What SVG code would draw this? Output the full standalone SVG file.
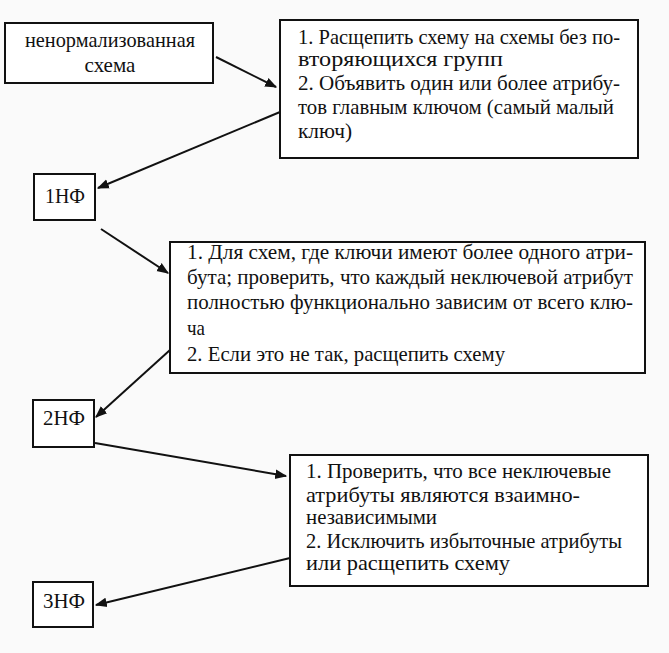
<svg xmlns="http://www.w3.org/2000/svg" width="669" height="653" viewBox="0 0 669 653">
<defs>
<style>
.box{fill:#fff;stroke:#111;stroke-width:2}
text{font-family:'Liberation Serif','Times New Roman',serif;font-size:21px;fill:#111}
.c{stroke:#111;stroke-width:2;fill:none;marker-end:url(#ah)}
</style>
<marker id="ah" viewBox="0 0 10 10" refX="9" refY="5" markerWidth="6" markerHeight="6" orient="auto" markerUnits="strokeWidth">
<path d="M0,1 L10,5 L0,9 z" fill="#111"/>
</marker>
</defs>
<rect width="669" height="653" fill="#fafafa"/>
<g id="connectors">
<line class="c" x1="216" y1="57" x2="276" y2="87"/>
<line class="c" x1="280" y1="112" x2="98" y2="188"/>
<line class="c" x1="101" y1="229" x2="168" y2="273"/>
<line class="c" x1="170" y1="350" x2="96" y2="417"/>
<line class="c" x1="95" y1="443" x2="286" y2="476"/>
<line class="c" x1="290" y1="558" x2="96" y2="605"/>
</g>
<g font-family="Liberation Serif, Times New Roman, serif" font-size="21">
<g id="n0">
<rect class="box" x="5" y="23" width="208" height="60"/>
<text x="110" y="47" text-anchor="middle" textLength="170" lengthAdjust="spacingAndGlyphs">ненормализованная</text>
<text x="110" y="72" text-anchor="middle">схема</text>
</g>
<g id="n1">
<rect class="box" x="280" y="20" width="358" height="138"/>
<text x="298" y="44" textLength="322" lengthAdjust="spacingAndGlyphs">1. Расщепить схему на схемы без по-</text>
<text x="298" y="66" textLength="205" lengthAdjust="spacingAndGlyphs">вторяющихся групп</text>
<text x="298" y="90" textLength="322" lengthAdjust="spacingAndGlyphs">2. Объявить один или более атрибу-</text>
<text x="298" y="114" textLength="316" lengthAdjust="spacingAndGlyphs">тов главным ключом  (самый малый</text>
<text x="298" y="138" textLength="54" lengthAdjust="spacingAndGlyphs">ключ)</text>
</g>
<g id="n2">
<rect class="box" x="34" y="174" width="61" height="46"/>
<text x="45" y="203" textLength="40" lengthAdjust="spacingAndGlyphs">1НФ</text>
</g>
<g id="n3">
<rect class="box" x="170" y="242" width="475" height="131"/>
<text x="187" y="259" textLength="446" lengthAdjust="spacingAndGlyphs">1. Для схем, где ключи имеют более одного атри-</text>
<text x="187" y="284" textLength="446" lengthAdjust="spacingAndGlyphs">бута; проверить, что каждый неключевой атрибут</text>
<text x="187" y="309" textLength="446" lengthAdjust="spacingAndGlyphs">полностью функционально зависим от всего клю-</text>
<text x="187" y="335" textLength="18" lengthAdjust="spacingAndGlyphs">ча</text>
<text x="187" y="361" textLength="318" lengthAdjust="spacingAndGlyphs">2. Если это не так, расщепить схему</text>
</g>
<g id="n4">
<rect class="box" x="33" y="400" width="61" height="47"/>
<text x="43" y="425" textLength="42" lengthAdjust="spacingAndGlyphs">2НФ</text>
</g>
<g id="n5">
<rect class="box" x="290" y="455" width="358" height="131"/>
<text x="306" y="478" textLength="305" lengthAdjust="spacingAndGlyphs">1. Проверить, что все неключевые</text>
<text x="306" y="502" textLength="274" lengthAdjust="spacingAndGlyphs">атрибуты являются взаимно-</text>
<text x="306" y="524" textLength="131" lengthAdjust="spacingAndGlyphs">независимыми</text>
<text x="306" y="548" textLength="316" lengthAdjust="spacingAndGlyphs">2. Исключить избыточные атрибуты</text>
<text x="306" y="570" textLength="204" lengthAdjust="spacingAndGlyphs">или расщепить схему</text>
</g>
<g id="n6">
<rect class="box" x="33" y="582" width="60" height="45"/>
<text x="43" y="608" textLength="42" lengthAdjust="spacingAndGlyphs">3НФ</text>
</g>
</g>
</svg>
